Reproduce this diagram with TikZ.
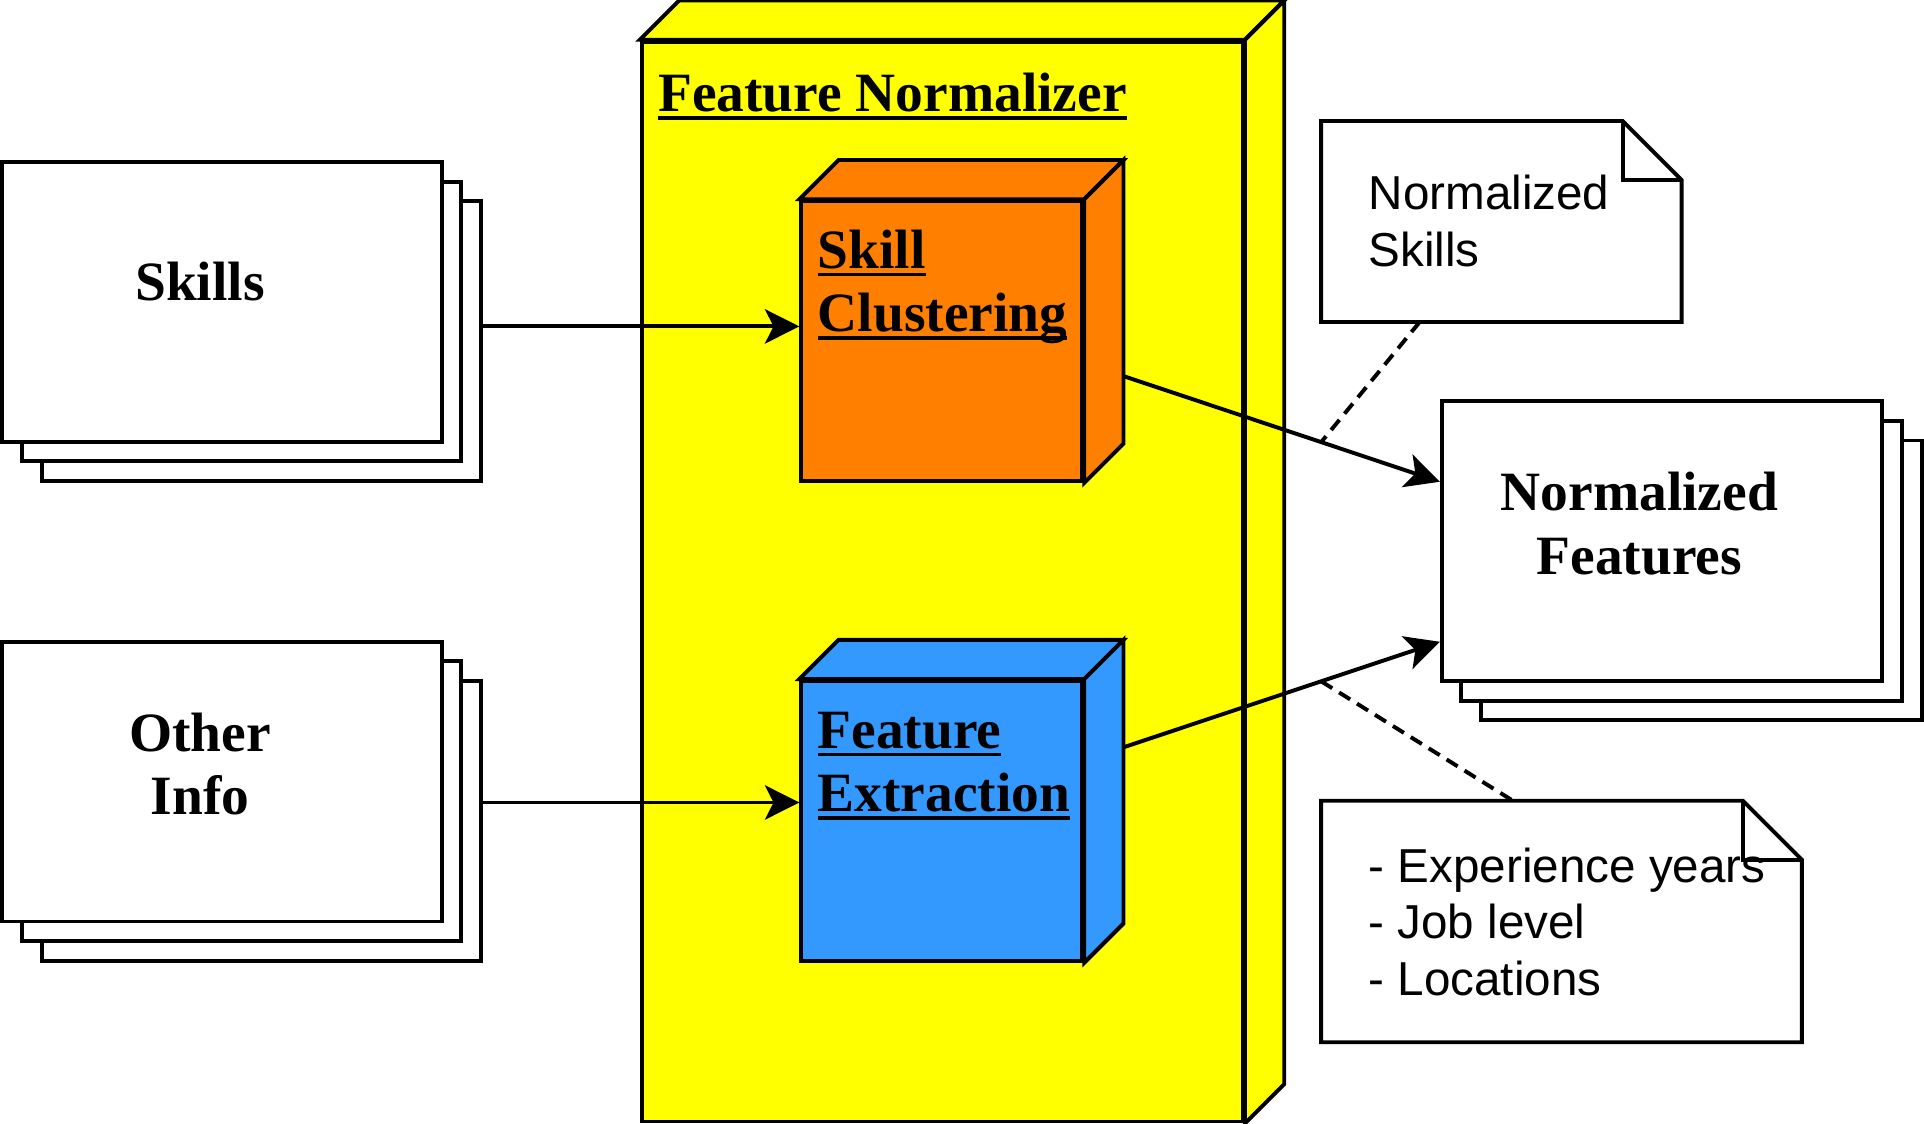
\documentclass[tikz,border=0pt]{standalone}
\usepackage{fontspec}
\setmainfont{Liberation Serif}
\newfontfamily\notefont{Liberation Sans}
\usetikzlibrary{arrows.meta}

\definecolor{boxyellow}{HTML}{FFFF00}
\definecolor{boxorange}{HTML}{FF8000}
\definecolor{boxblue}{HTML}{3399FF}

% underline at a fixed depth
\newcommand{\uln}[1]{\setbox0\hbox{#1}\rlap{\rule[-3.3pt]{\wd0}{1.6pt}}\box0}

\tikzset{
  page/.style={draw, fill=white, line width=1.6pt, minimum width=179pt, minimum height=114pt, inner sep=0pt},
  face/.style={draw, line width=1.6pt, line join=miter},
  notebox/.style={inner sep=0pt},
  bold/.style={font=\bfseries\fontsize{22.6}{25.8}\selectfont, inner sep=0pt},
  plain/.style={font=\notefont\fontsize{19.4}{23}\selectfont, inner sep=0pt, align=left},
  arr/.style={draw, line width=1.6pt, -{Stealth[length=14pt,width=14pt,inset=3.5pt]}},
  dashlink/.style={draw, line width=1.6pt, dash pattern=on 5.3pt off 3.3pt},
}

\begin{document}
\begin{tikzpicture}[x=0.5pt, y=-0.5pt]
\useasboundingbox (0,0) rectangle (1568,916);

% feature normalizer
\node[face, fill=boxyellow, minimum width=245pt, minimum height=440pt, inner sep=0pt] (fn) at (768,474) {};
\path[face, fill=boxyellow] (fn.north west) -- ++(32,-32) -- ([shift={(32,-32)}]fn.north east) -- (fn.north east) -- cycle;
\path[face, fill=boxyellow] (fn.north east) -- ++(32,-32) -- ([shift={(32,-32)}]fn.south east) -- (fn.south east) -- cycle;
\node[bold, anchor=base west] (fntxt) at (536,91) {\uln{Feature Normalizer}};

% skill clustering
\node[face, fill=boxorange, minimum width=114.5pt, minimum height=114pt, inner sep=0pt] (sc) at (767.5,278) {};
\path[face, fill=boxorange] (sc.north west) -- ++(32,-32) -- ([shift={(32,-32)}]sc.north east) -- (sc.north east) -- cycle;
\path[face, fill=boxorange] (sc.north east) -- ++(32,-32) -- ([shift={(32,-32)}]sc.south east) -- (sc.south east) -- cycle;
\node[bold, align=left, anchor=base west] (sctxt) at (666,270.3) {\uln{Skill}\\\uln{Clustering}};

% feature extraction
\node[face, fill=boxblue, minimum width=114.5pt, minimum height=114pt, inner sep=0pt] (fe) at (767.5,669) {};
\path[face, fill=boxblue] (fe.north west) -- ++(32,-32) -- ([shift={(32,-32)}]fe.north east) -- (fe.north east) -- cycle;
\path[face, fill=boxblue] (fe.north east) -- ++(32,-32) -- ([shift={(32,-32)}]fe.south east) -- (fe.south east) -- cycle;
\node[bold, align=left, anchor=base west] (fetxt) at (666,661.5) {\uln{Feature}\\\uln{Extraction}};

% input stacks
\node[page] (skills3) at (213,278) {};
\node[page] (skills2) at (197,262) {};
\node[page] (skills) at (181,246) {};
\node[bold, anchor=base] (skillstxt) at (163,245) {Skills};

\node[page] (other3) at (213,669) {};
\node[page] (other2) at (197,653) {};
\node[page] (other) at (181,637) {};
\node[bold, align=center, anchor=base] (othertxt) at (163,664) {Other\\Info};

% output stack
\node[page, minimum width=179.5pt] (nf3) at (1386.5,473) {};
\node[page, minimum width=179.5pt] (nf2) at (1370.5,457) {};
\node[page, minimum width=179.5pt] (nf) at (1354.5,441) {};
\node[bold, align=center, anchor=base] (nftxt) at (1336,468) {Normalized\\Features};

% notes
\node[notebox, minimum width=146.5pt, minimum height=81.5pt] (n1) at (1223.5,180.5) {};
\path[face] (n1.north west) -- ([xshift=-24pt]n1.north east) -- ([yshift=-24pt]n1.north east) -- (n1.south east) -- (n1.south west) -- cycle;
\path[face] ([xshift=-24pt]n1.north east) |- ([yshift=-24pt]n1.north east);
\node[plain, anchor=base west] (n1txt) at (1115,217) {Normalized\\Skills};

\node[notebox, minimum width=195.5pt, minimum height=98pt] (n2) at (1272.5,751) {};
\path[face] (n2.north west) -- ([xshift=-24pt]n2.north east) -- ([yshift=-24pt]n2.north east) -- (n2.south east) -- (n2.south west) -- cycle;
\path[face] ([xshift=-24pt]n2.north east) |- ([yshift=-24pt]n2.north east);
\node[plain, anchor=base west] (n2txt) at (1115,811) {- Experience years\\- Job level\\- Locations};

% connectors
\path[arr] ([yshift=6pt]skills3.east) -- ([yshift=6pt]sc.west);
\path[arr] ([yshift=7.5pt]other3.east) -- ([yshift=7.5pt]fe.west);
\path[arr] ([shift={(32,28.5)}]sc.east) -- coordinate[pos=0.625] (m1) ([yshift=24.2pt]nf.west);
\path[arr] ([shift={(32,-60)}]fe.east) -- coordinate[pos=0.625] (m2) ([yshift=-41pt]nf.west);
\path[dashlink] ([xshift=-33.25pt]n1.south) -- (m1);
\path[dashlink] (m2) -- ([xshift=-19.75pt]n2.north);
\end{tikzpicture}
\end{document}
